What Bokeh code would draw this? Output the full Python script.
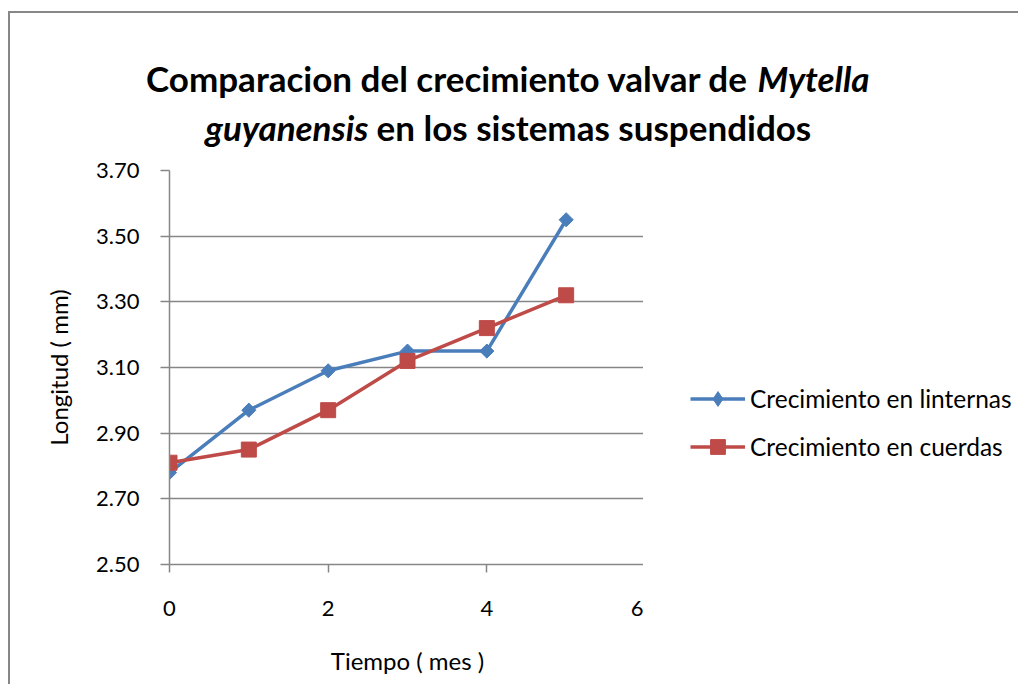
import numpy as np
from bokeh.plotting import figure
from bokeh.models import Range1d, Legend, LegendItem, FixedTicker, NumeralTickFormatter
from bokeh.layouts import row
from bokeh.core.properties import value
from bokeh.embed import file_html
from bokeh.resources import INLINE

meses = [0, 1, 2, 3, 4, 5]
linternas = [2.78, 2.97, 3.09, 3.15, 3.15, 3.55]
cuerdas = [2.81, 2.85, 2.97, 3.12, 3.22, 3.32]
y_ticks = [2.5, 2.7, 2.9, 3.1, 3.3, 3.5, 3.7]
x_ticks = [0, 2, 4, 6]
series_names = ["Crecimiento en linternas", "Crecimiento en cuerdas"]

BLUE = "#4A7EBB"
RED = "#BE4B48"
GRAY = "#868686"
FONT = "Lato"

# ---------- title strip (pixel-mapped ranges) ----------
t = figure(width=1010, height=139, output_backend="svg", toolbar_location=None,
           x_range=Range1d(8, 1018), y_range=Range1d(150, 11),
           min_border=0, x_axis_type=None, y_axis_type=None)
t.margin = (11, 0, 0, 8)
t.outline_line_color = None
t.grid.visible = False
t.styles = {"border-left": "2px solid #878787", "border-top": "2px solid #878787"}

title_parts = [
    ("Comparacion del crecimiento valvar de", 746, 75, "right", "bold"),
    ("Mytella", 755, 75, "left", "bold italic"),
    ("guyanensis", 366, 124, "right", "bold italic"),
    ("en los sistemas suspendidos", 374, 124, "left", "bold"),
]
for txt, x, y, align, style in title_parts:
    t.text(x=[x], y=[y], text=[txt], text_align=align, text_baseline="middle",
           text_font=value(FONT), text_font_size="35px", text_font_style=style,
           text_color="black")

# ---------- main chart ----------
p = figure(width=635, height=534, output_backend="svg", toolbar_location=None,
           x_range=Range1d(0, 6), y_range=Range1d(2.5, 3.7),
           min_border_left=159, min_border_right=0, min_border_top=20, min_border_bottom=120)
p.margin = (0, 0, 0, 8)
p.styles = {"border-left": "2px solid #878787"}
p.outline_line_color = None
p.xgrid.grid_line_color = None
p.ygrid.grid_line_color = GRAY
p.ygrid.grid_line_width = 1.5

for ax in (p.xaxis[0], p.yaxis[0]):
    ax.axis_line_color = GRAY
    ax.axis_line_width = 1.5
    ax.major_tick_line_color = GRAY
    ax.major_tick_line_width = 1.5
    ax.major_tick_in = 0
    ax.minor_tick_line_color = None
    ax.major_label_text_font = FONT
    ax.major_label_text_font_size = "22px"
    ax.major_label_text_color = "black"
    ax.axis_label_text_font = FONT
    ax.axis_label_text_font_size = "24px"
    ax.axis_label_text_font_style = "normal"
    ax.axis_label_text_color = "black"

p.xaxis.major_tick_out = 8
p.yaxis.major_tick_out = 9
p.xaxis.ticker = FixedTicker(ticks=x_ticks)
p.yaxis.ticker = FixedTicker(ticks=y_ticks)
p.yaxis.formatter = NumeralTickFormatter(format="0.00")
p.xaxis.major_label_standoff = 28
p.yaxis.major_label_standoff = 21
p.xaxis.axis_label = "Tiempo ( mes )"
p.yaxis.axis_label = "Longitud ( mm)"
p.xaxis.axis_label_standoff = 27
p.yaxis.axis_label_standoff = 20

p.line(meses, linternas, line_color=BLUE, line_width=3.5)
p.scatter(meses, linternas, marker="square", angle=np.pi / 4, size=10,
          fill_color=BLUE, line_color=BLUE)
p.line(meses, cuerdas, line_color=RED, line_width=3.5)
p.scatter(meses, cuerdas, marker="square", size=15, fill_color=RED, line_color=RED)

# ---------- legend strip to the right of the chart ----------
# same series drawn in an out-of-view range so only their legend entries show
lf = figure(width=375, height=534, output_backend="svg", toolbar_location=None,
            x_range=Range1d(100, 101), y_range=Range1d(100, 101),
            min_border_left=0, min_border_right=0, min_border_top=20, min_border_bottom=120,
            x_axis_type=None, y_axis_type=None)
lf.outline_line_color = None
lf.grid.visible = False
g1 = lf.line(meses, linternas, line_color=BLUE, line_width=3.5)
m1 = lf.scatter(meses, linternas, marker="diamond", size=10,
                fill_color=BLUE, line_color=BLUE)
g2 = lf.line(meses, cuerdas, line_color=RED, line_width=3.5)
m2 = lf.scatter(meses, cuerdas, marker="square", size=15, fill_color=RED, line_color=RED)

legend = Legend(items=[LegendItem(label=series_names[0], renderers=[g1, m1]),
                       LegendItem(label=series_names[1], renderers=[g2, m2])],
                location=(47, 99), padding=0, margin=0, spacing=11,
                glyph_width=55, glyph_height=37, label_height=20, label_standoff=5,
                label_text_font=FONT, label_text_font_size="24.5px",
                label_text_color="black",
                background_fill_alpha=0, border_line_color=None)
lf.add_layout(legend, "center")

open("out.html", "w").write(file_html([t, row(p, lf)], INLINE))
